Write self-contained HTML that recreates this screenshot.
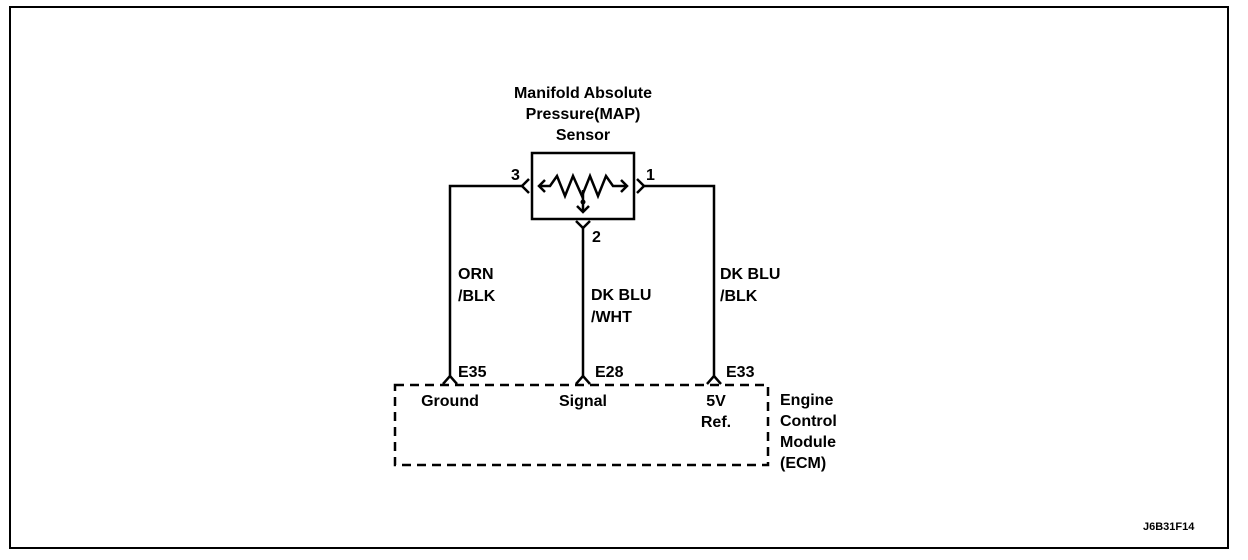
<!DOCTYPE html>
<html><head><style>
body{margin:0;background:#fff;}
svg{display:block;}
text{font-family:"Liberation Sans",Arial,sans-serif;font-size:16px;fill:#000;font-weight:bold;}
</style></head><body>
<svg width="1248" height="560" viewBox="0 0 1248 560">
<rect x="10" y="7" width="1218" height="541" fill="none" stroke="#000" stroke-width="2"/>
<g fill="none" stroke="#000" stroke-width="2.5">
<rect x="532" y="153" width="102" height="66"/>
<polyline points="450,376 450,186 522,186"/>
<polyline points="529,179 522,186 529,193"/>
<polyline points="714,376 714,186 644,186"/>
<polyline points="637,179 644,186 637,193"/>
<line x1="583" y1="228" x2="583" y2="376"/>
<polyline points="576,221 583,228 590,221"/>
<polyline points="545,180 539,186 545,192"/>
<polyline points="621,180 627,186 621,192"/>
<polyline points="539,186 550,186 557,176 565,196 573,176 582,196 590,176 598,196 606,176 613,186 627,186"/>
<line x1="583" y1="190" x2="583" y2="212"/>
<polyline points="577,206 583,212 589,206"/>
<polyline points="443,384 450,376 457,384"/>
<polyline points="576,384 583,376 590,384"/>
<polyline points="707,384 714,376 721,384"/>
<rect x="395" y="385" width="373" height="80" stroke-dasharray="9,6"/>
</g>
<circle cx="583" cy="202" r="2.5" fill="#000"/>
<g text-anchor="middle">
<text x="583" y="98">Manifold Absolute</text>
<text x="583" y="119">Pressure(MAP)</text>
<text x="583" y="140">Sensor</text>
<text x="450" y="406">Ground</text>
<text x="583" y="406">Signal</text>
<text x="716" y="406">5V</text>
<text x="716" y="427">Ref.</text>
</g>
<text x="511" y="180">3</text>
<text x="646" y="180">1</text>
<text x="592" y="242">2</text>
<text x="458" y="279">ORN</text>
<text x="458" y="301">/BLK</text>
<text x="591" y="300">DK BLU</text>
<text x="591" y="322">/WHT</text>
<text x="720" y="279">DK BLU</text>
<text x="720" y="301">/BLK</text>
<text x="458" y="377">E35</text>
<text x="595" y="377">E28</text>
<text x="726" y="377">E33</text>
<text x="780" y="405">Engine</text>
<text x="780" y="426">Control</text>
<text x="780" y="447">Module</text>
<text x="780" y="468">(ECM)</text>
<text x="1143" y="530" style="font-size:11px">J6B31F14</text>
</svg>
</body></html>
